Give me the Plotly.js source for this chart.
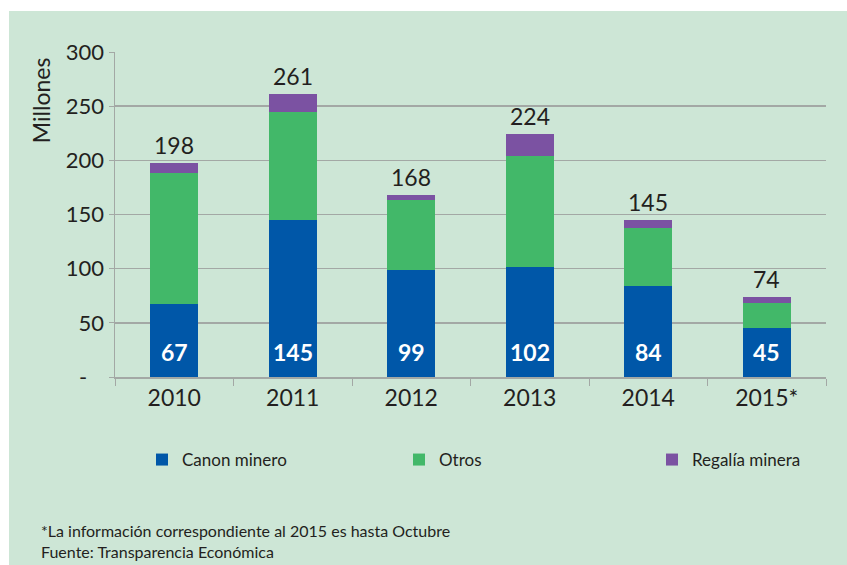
<!DOCTYPE html>
<html>
<head>
<meta charset="utf-8">
<script src="https://cdn.plot.ly/plotly-3.0.1.min.js"></script>
<style>
  html, body { margin: 0; padding: 0; background: #ffffff; }
  #chart { position: absolute; left: 9px; top: 11px; width: 838px; height: 554px; }
</style>
</head>
<body>
<div id="chart"></div>
<script>
// Transferencias por año (millones)
const years    = ["2010", "2011", "2012", "2013", "2014", "2015*"];
const canon    = [67, 145, 99, 102, 84, 45];
const otros    = [121, 100, 64, 102, 54, 23];
const regalia  = [10, 16, 5, 20, 7, 6];
const totals   = [198, 261, 168, 224, 145, 74];

const yTicks     = [0, 50, 100, 150, 200, 250, 300];
const yTickText  = ["-\u00a0\u00a0\u00a0", "50", "100", "150", "200", "250", "300"];

const FONT = "Lato, 'Open Sans', sans-serif";
const TXT  = "#231f20";
const GRID = "#a3a8a5";

const traces = [
  {
    type: "bar", name: "Canon minero", x: years, y: canon, legend: "legend",
    marker: { color: "#0057a8" }, hoverinfo: "skip"
  },
  {
    type: "bar", name: "Otros", x: years, y: otros, legend: "legend2",
    marker: { color: "#42b869" }, hoverinfo: "skip"
  },
  {
    type: "bar", name: "Regalía minera", x: years, y: regalia, legend: "legend3",
    marker: { color: "#7b52a2" }, hoverinfo: "skip"
  }
];

// totales encima de cada barra (x por índice de categoría)
const annotations = years.map((yr, i) => ({
  x: i, y: totals[i], xref: "x", yref: "y",
  text: String(totals[i]), showarrow: false,
  xanchor: "center", yanchor: "bottom", yshift: 2,
  font: { size: 23, color: TXT, family: FONT }
}));

// valor del canon en la base de cada barra
canon.forEach((v, i) => annotations.push({
  x: i, y: 0, xref: "x", yref: "y",
  text: "<b>" + v + "</b>", showarrow: false,
  xanchor: "center", yanchor: "bottom", yshift: 9,
  font: { size: 23, color: "#ffffff", family: FONT }
}));

annotations.push({
  xref: "paper", yref: "paper", x: -0.104, y: 0.852,
  xanchor: "center", yanchor: "middle",
  text: "Millones", textangle: -90, showarrow: false,
  font: { size: 23, color: TXT, family: FONT }
});

annotations.push({
  xref: "paper", yref: "paper", x: -0.107, y: -0.505, xanchor: "left", yanchor: "middle",
  align: "left", showarrow: false,
  text: "*La información correspondiente al 2015 es hasta Octubre<br>Fuente: Transparencia Económica",
  font: { size: 16, color: TXT, family: FONT }
});

function legendAt(xPx) {
  return {
    orientation: "h", xref: "container", yref: "container",
    x: xPx / 838, xanchor: "left", y: (554 - 449) / 554, yanchor: "middle",
    font: { size: 17, color: TXT, family: FONT },
    bgcolor: "rgba(0,0,0,0)"
  };
}

const layout = {
  width: 838, height: 554,
  paper_bgcolor: "#cde6d6",
  plot_bgcolor: "rgba(0,0,0,0)",
  barmode: "stack",
  bargap: 0.595,
  margin: { l: 106, r: 21, t: 41, b: 188 },
  font: { family: FONT, color: TXT },
  xaxis: {
    type: "category",
    showline: true, linecolor: GRID, linewidth: 1.5,
    ticks: "outside", tickson: "boundaries", ticklen: 7, tickcolor: GRID,
    tickfont: { size: 23, color: TXT, family: FONT },
    showgrid: false
  },
  yaxis: {
    range: [0, 300],
    tickvals: yTicks, ticktext: yTickText,
    showline: true, linecolor: GRID, linewidth: 1.5,
    ticks: "outside", ticklen: 5, tickcolor: GRID,
    tickfont: { size: 22, color: TXT, family: FONT },
    gridcolor: GRID, gridwidth: 1.5, zeroline: false
  },
  showlegend: true,
  legend: legendAt(133),
  legend2: legendAt(390),
  legend3: legendAt(643),
  annotations: annotations
};

Plotly.newPlot("chart", traces, layout, { displayModeBar: false, staticPlot: true });
</script>
</body>
</html>
